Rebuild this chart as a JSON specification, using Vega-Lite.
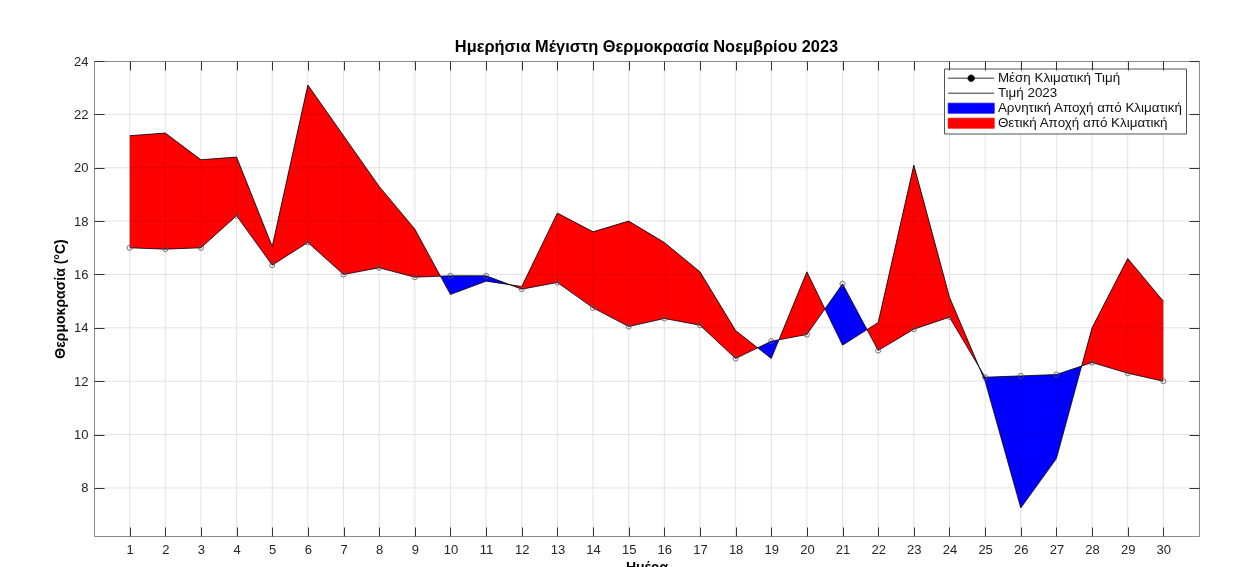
{
  "$schema": "https://vega.github.io/schema/vega-lite/v6.json",
  "autosize": {"type": "none"},
  "width": 1105,
  "height": 475,
  "padding": {"left": 94, "top": 61, "right": 34, "bottom": 31},
  "background": "white",
  "title": {"text": "Ημερήσια Μέγιστη Θερμοκρασία Νοεμβρίου 2023", "font": "Liberation Sans", "fontSize": 16.4, "fontWeight": "bold", "color": "#000000", "anchor": "middle", "offset": -0.5},
  "config": {
    "font": "Liberation Sans",
    "view": {"stroke": "#8a8a8a", "strokeWidth": 1},
    "axis": {"grid": false, "domain": false, "zindex": 1, "labelFont": "Liberation Sans", "labelFontSize": 13, "labelColor": "#262626", "titleFont": "Liberation Sans", "titleFontSize": 14, "titleFontWeight": "bold", "titleColor": "#000000", "tickColor": "#333333", "tickWidth": 1}
  },
  "data": {"values": [
    {"day": 1, "m": 17.0, "t": 21.2},
    {"day": 2, "m": 16.95, "t": 21.3},
    {"day": 3, "m": 17.0, "t": 20.3},
    {"day": 4, "m": 18.2, "t": 20.4},
    {"day": 5, "m": 16.35, "t": 17.05},
    {"day": 6, "m": 17.2, "t": 23.1},
    {"day": 7, "m": 16.0, "t": 21.2},
    {"day": 8, "m": 16.25, "t": 19.3},
    {"day": 9, "m": 15.9, "t": 17.7},
    {"day": 10, "m": 15.95, "t": 15.25},
    {"day": 11, "m": 15.95, "t": 15.75},
    {"day": 12, "m": 15.45, "t": 15.55},
    {"day": 13, "m": 15.7, "t": 18.3},
    {"day": 14, "m": 14.75, "t": 17.6},
    {"day": 15, "m": 14.05, "t": 18.0},
    {"day": 16, "m": 14.35, "t": 17.2},
    {"day": 17, "m": 14.1, "t": 16.1},
    {"day": 18, "m": 12.85, "t": 13.9},
    {"day": 19, "m": 13.5, "t": 12.85},
    {"day": 20, "m": 13.75, "t": 16.1},
    {"day": 21, "m": 15.65, "t": 13.35},
    {"day": 22, "m": 13.15, "t": 14.2},
    {"day": 23, "m": 13.95, "t": 20.1},
    {"day": 24, "m": 14.4, "t": 15.15},
    {"day": 25, "m": 12.15, "t": 12.0},
    {"day": 26, "m": 12.2, "t": 7.25},
    {"day": 27, "m": 12.25, "t": 9.1},
    {"day": 28, "m": 12.7, "t": 14.0},
    {"day": 29, "m": 12.3, "t": 16.6},
    {"day": 30, "m": 12.0, "t": 15.0}
  ]},
  "resolve": {"axis": {"x": "independent", "y": "independent"}},
  "layer": [
    {
      "mark": {"type": "area", "color": "#000000", "interpolate": "linear"},
      "encoding": {
        "x": {"field": "day", "type": "quantitative", "scale": {"domain": [0, 31], "nice": false, "zero": false},
              "axis": {"orient": "bottom", "zindex": 1, "values": [1,2,3,4,5,6,7,8,9,10,11,12,13,14,15,16,17,18,19,20,21,22,23,24,25,26,27,28,29,30], "format": "d", "title": "Ημέρα", "tickSize": -9, "labelPadding": 16, "titlePadding": 4}},
        "y": {"field": "t", "type": "quantitative", "scale": {"domain": [6.2, 24], "nice": false, "zero": false},
              "axis": {"orient": "left", "zindex": 1, "values": [8,10,12,14,16,18,20,22,24], "title": "Θερμοκρασία (°C)", "tickSize": -10, "labelPadding": 16, "titlePadding": 6}},
        "y2": {"field": "m"}
      }
    },
    {
      "mark": {"type": "area", "blend": "lighten", "interpolate": "linear"},
      "encoding": {
        "x": {"field": "day", "type": "quantitative", "scale": {"domain": [0, 31], "nice": false, "zero": false}, "axis": null},
        "y": {"field": "t", "type": "quantitative", "scale": {"domain": [6.2, 24], "nice": false, "zero": false}, "axis": null},
        "y2": {"datum": 6.6},
        "color": {"datum": "Θετική Αποχή από Κλιματική", "type": "nominal",
          "scale": {"domain": ["Μέση Κλιματική Τιμή", "Τιμή 2023", "Αρνητική Αποχή από Κλιματική", "Θετική Αποχή από Κλιματική"], "range": ["#000000", "#000000", "#0000ff", "#ff0000"]},
          "legend": {
            "title": null, "orient": "none", "legendX": 850, "legendY": 7.5, "direction": "vertical",
            "fillColor": "white", "strokeColor": "#555555", "padding": 3,
            "labelFont": "Liberation Sans", "labelFontSize": 13.4, "labelColor": "#111111", "labelLimit": 400,
            "symbolSize": 100, "symbolStrokeWidth": 0.8, "symbolOffset": 17.5, "labelOffset": 20, "rowPadding": 0,
            "encode": {"symbols": {"update": {
              "shape": {"signal": "datum.value === 'Μέση Κλιματική Τιμή' ? 'M-4.6,0H-0.65M0.65,0H4.6M0.65,0A0.65,0.65,0,1,1,-0.65,0A0.65,0.65,0,1,1,0.65,0' : (datum.value === 'Τιμή 2023' ? 'M-4.6,0H4.6' : 'M-4.6,-1H4.6V1H-4.6Z')"},
              "fill": {"signal": "datum.value === 'Αρνητική Αποχή από Κλιματική' ? '#0000ff' : (datum.value === 'Θετική Αποχή από Κλιματική' ? '#ff0000' : 'transparent')"},
              "stroke": {"value": "#222222"},
              "strokeWidth": {"value": 0.8},
              "opacity": {"value": 1},
              "fillOpacity": {"value": 1}
            }}}
          }}
      }
    },
    {
      "mark": {"type": "area", "blend": "lighten", "interpolate": "linear"},
      "encoding": {
        "x": {"field": "day", "type": "quantitative", "scale": {"domain": [0, 31], "nice": false, "zero": false}, "axis": null},
        "y": {"field": "m", "type": "quantitative", "scale": {"domain": [6.2, 24], "nice": false, "zero": false}, "axis": null},
        "y2": {"datum": 6.6},
        "color": {"datum": "Αρνητική Αποχή από Κλιματική", "type": "nominal"}
      }
    },
    {
      "mark": {"type": "rule", "color": "#e2e2e2", "strokeWidth": 1, "blend": "darken"},
      "encoding": {
        "x": {"field": "day", "type": "quantitative", "scale": {"domain": [0, 31], "nice": false, "zero": false}, "axis": null}
      }
    },
    {"data": {"values": [{}]}, "mark": {"type": "rule", "color": "#e2e2e2", "strokeWidth": 1, "blend": "darken"},
     "encoding": {"y": {"datum": 8, "type": "quantitative", "scale": {"domain": [6.2, 24], "nice": false, "zero": false}, "axis": null}}},
    {"data": {"values": [{}]}, "mark": {"type": "rule", "color": "#e2e2e2", "strokeWidth": 1, "blend": "darken"},
     "encoding": {"y": {"datum": 10, "type": "quantitative", "scale": {"domain": [6.2, 24], "nice": false, "zero": false}, "axis": null}}},
    {"data": {"values": [{}]}, "mark": {"type": "rule", "color": "#e2e2e2", "strokeWidth": 1, "blend": "darken"},
     "encoding": {"y": {"datum": 12, "type": "quantitative", "scale": {"domain": [6.2, 24], "nice": false, "zero": false}, "axis": null}}},
    {"data": {"values": [{}]}, "mark": {"type": "rule", "color": "#e2e2e2", "strokeWidth": 1, "blend": "darken"},
     "encoding": {"y": {"datum": 14, "type": "quantitative", "scale": {"domain": [6.2, 24], "nice": false, "zero": false}, "axis": null}}},
    {"data": {"values": [{}]}, "mark": {"type": "rule", "color": "#e2e2e2", "strokeWidth": 1, "blend": "darken"},
     "encoding": {"y": {"datum": 16, "type": "quantitative", "scale": {"domain": [6.2, 24], "nice": false, "zero": false}, "axis": null}}},
    {"data": {"values": [{}]}, "mark": {"type": "rule", "color": "#e2e2e2", "strokeWidth": 1, "blend": "darken"},
     "encoding": {"y": {"datum": 18, "type": "quantitative", "scale": {"domain": [6.2, 24], "nice": false, "zero": false}, "axis": null}}},
    {"data": {"values": [{}]}, "mark": {"type": "rule", "color": "#e2e2e2", "strokeWidth": 1, "blend": "darken"},
     "encoding": {"y": {"datum": 20, "type": "quantitative", "scale": {"domain": [6.2, 24], "nice": false, "zero": false}, "axis": null}}},
    {"data": {"values": [{}]}, "mark": {"type": "rule", "color": "#e2e2e2", "strokeWidth": 1, "blend": "darken"},
     "encoding": {"y": {"datum": 22, "type": "quantitative", "scale": {"domain": [6.2, 24], "nice": false, "zero": false}, "axis": null}}},
    {
      "mark": {"type": "line", "strokeWidth": 0.8, "interpolate": "linear"},
      "encoding": {
        "x": {"field": "day", "type": "quantitative", "scale": {"domain": [0, 31], "nice": false, "zero": false}, "axis": null},
        "y": {"field": "t", "type": "quantitative", "scale": {"domain": [6.2, 24], "nice": false, "zero": false}, "axis": null},
        "color": {"datum": "Τιμή 2023", "type": "nominal"}
      }
    },
    {
      "mark": {"type": "line", "strokeWidth": 0.8, "interpolate": "linear"},
      "encoding": {
        "x": {"field": "day", "type": "quantitative", "scale": {"domain": [0, 31], "nice": false, "zero": false}, "axis": null},
        "y": {"field": "m", "type": "quantitative", "scale": {"domain": [6.2, 24], "nice": false, "zero": false}, "axis": null},
        "color": {"datum": "Μέση Κλιματική Τιμή", "type": "nominal"}
      }
    },
    {
      "mark": {"type": "point", "filled": false, "size": 26, "stroke": "#555555", "strokeWidth": 0.8, "opacity": 1},
      "encoding": {
        "x": {"field": "day", "type": "quantitative", "scale": {"domain": [0, 31], "nice": false, "zero": false},
              "axis": {"orient": "top", "zindex": 1, "values": [1,2,3,4,5,6,7,8,9,10,11,12,13,14,15,16,17,18,19,20,21,22,23,24,25,26,27,28,29,30], "labels": false, "title": null, "tickSize": -9}},
        "y": {"field": "m", "type": "quantitative", "scale": {"domain": [6.2, 24], "nice": false, "zero": false},
              "axis": {"orient": "right", "zindex": 1, "values": [8,10,12,14,16,18,20,22,24], "labels": false, "title": null, "tickSize": -10}}
      }
    }
  ]
}
